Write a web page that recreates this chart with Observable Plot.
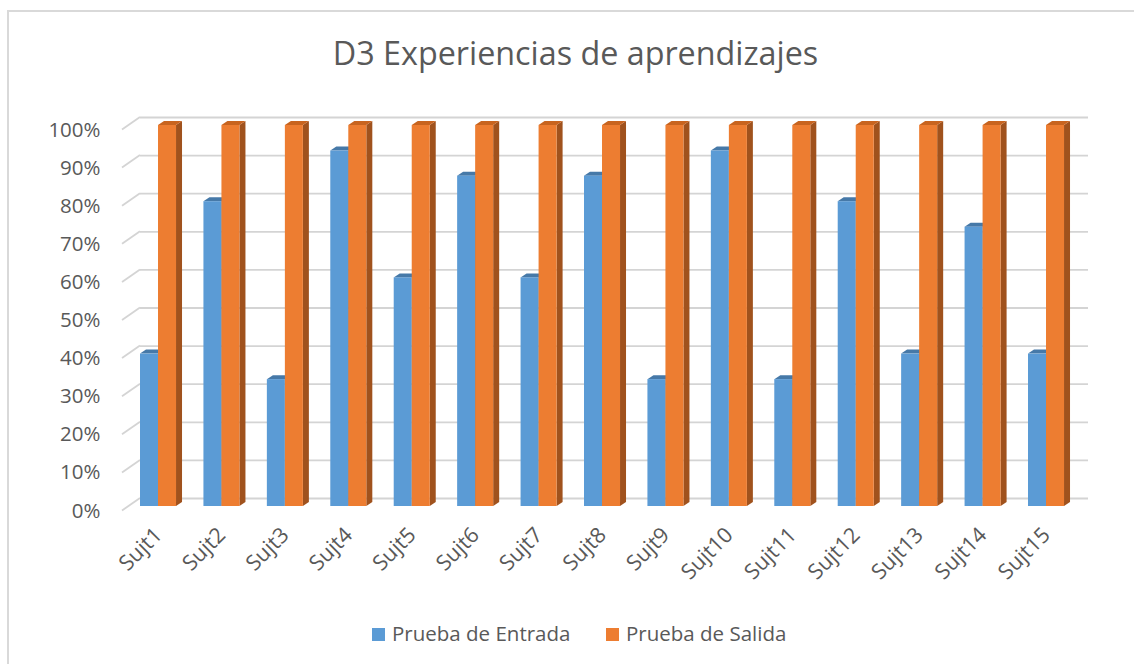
<!DOCTYPE html>
<html>
<head>
<meta charset="utf-8">
<script src="https://cdn.jsdelivr.net/npm/d3@7"></script>
<script src="https://cdn.jsdelivr.net/npm/@observablehq/plot@0.6"></script>
<style>
  html, body { margin: 0; padding: 0; background: #fff; }
  body { font-family: "Open Sans", sans-serif; color: #595959; width: 1134px; height: 664px; overflow: hidden; position: relative; }
  #border { position: absolute; left: 7px; top: 10px; width: 1200px; height: 700px; border-left: 2px solid #d9d9d9; border-top: 2px solid #d9d9d9; pointer-events: none; }
  #title { box-sizing: border-box; height: 100px; padding-top: 31px; padding-left: 17px; text-align: center; font-size: 32.3px; line-height: 42px; color: #595959; }
  #chart svg { display: block; }
  #legend { position: relative; height: 64px; font-size: 20.5px; color: #595959; }
  .sw { position: absolute; top: 28px; width: 13px; height: 13px; }
  .lt { position: absolute; top: 19px; line-height: 28px; white-space: nowrap; }
</style>
</head>
<body>
<div id="border"></div>
<div id="title">D3 Experiencias de aprendizajes</div>
<div id="chart"></div>
<div id="legend"></div>
<script>
// ---- data ----
const categories = ["Sujt1","Sujt2","Sujt3","Sujt4","Sujt5","Sujt6","Sujt7","Sujt8","Sujt9","Sujt10","Sujt11","Sujt12","Sujt13","Sujt14","Sujt15"];
const series = ["Prueba de Entrada", "Prueba de Salida"];
const entrada = [0.40, 0.80, 0.333, 0.933, 0.60, 0.867, 0.60, 0.867, 0.333, 0.933, 0.333, 0.80, 0.40, 0.733, 0.40];
const salida  = [1.00, 1.00, 1.00, 1.00, 1.00, 1.00, 1.00, 1.00, 1.00, 1.00, 1.00, 1.00, 1.00, 1.00, 1.00];
const yTicks = [0, 0.1, 0.2, 0.3, 0.4, 0.5, 0.6, 0.7, 0.8, 0.9, 1.0];

// ---- styles ----
const frontColors = ["#5b9bd5", "#ed7d31"];
const topColors   = ["#4679a8", "#c8641f"];
const sideColors  = ["#3d6a94", "#a0521d"];
const W = 1134, H = 500;
const mL = 140, mR = 46, mT = 25, mB = 94;
const padInner = 0.432, padOuter = 0.189;
const depthX = 6, depthY = -4;

const rows = categories.flatMap((c, i) => [
  {cat: c, s: 0, serie: series[0], value: entrada[i]},
  {cat: c, s: 1, serie: series[1], value: salida[i]}
]);

const step = (W - mL - mR) / (categories.length - padInner + 2 * padOuter);
const half = step * (1 - padInner) / 2;

// 3D faces (top and side) drawn with the plot's scales
function faces(index, scales, values, dims) {
  const g = d3.create("svg:g");
  const bw = scales.x.bandwidth();
  const y0 = scales.y(0);
  for (const r of rows) {
    const xa = scales.x(r.cat) + r.s * bw / 2;
    const xb = xa + bw / 2;
    const yt = scales.y(r.value);
    g.append("polygon")
      .attr("points", [[xb, yt], [xb + depthX, yt + depthY], [xb + depthX, y0 + depthY], [xb, y0]].join(" "))
      .attr("fill", sideColors[r.s]);
    g.append("polygon")
      .attr("points", [[xa, yt], [xb, yt], [xb + depthX, yt + depthY], [xa + depthX, yt + depthY]].join(" "))
      .attr("fill", topColors[r.s]);
  }
  return g.node();
}

// slanted wall edges on the left of each gridline
function slants(index, scales, values, dims) {
  const g = d3.create("svg:g");
  const xl = dims.marginLeft;
  for (const t of yTicks) {
    const y = scales.y(t);
    g.append("line")
      .attr("x1", xl - 18).attr("y1", y + 4.5)
      .attr("x2", xl).attr("y2", y - 8)
      .attr("stroke", "#d4d4d4").attr("stroke-width", 1.8);
  }
  return g.node();
}

const chart = Plot.plot({
  width: W, height: H,
  marginLeft: mL, marginRight: mR, marginTop: mT, marginBottom: mB,
  style: {fontFamily: "Open Sans, sans-serif", color: "#595959", background: "transparent"},
  x: {type: "band", domain: categories, paddingInner: padInner, paddingOuter: padOuter, align: 0, round: false, label: null},
  y: {domain: [0, 1], label: null},
  marks: [
    Plot.ruleY(yTicks, {stroke: "#d4d4d4", strokeWidth: 1.8, dy: -8}),
    slants,
    faces,
    Plot.barY(rows.filter(d => d.s === 0), {x: "cat", y: "value", fill: frontColors[0], insetRight: half}),
    Plot.barY(rows.filter(d => d.s === 1), {x: "cat", y: "value", fill: frontColors[1], insetLeft: half}),
    Plot.axisY({ticks: yTicks, tickFormat: d3.format(".0%"), tickSize: 0, tickPadding: 40, dy: 4.5, fontSize: 20.5, label: null}),
    Plot.axisX({tickRotate: -45, tickSize: 0, tickPadding: 25, fontSize: 21.5, label: null})
  ]
});
document.getElementById("chart").appendChild(chart);

// legend
const legend = document.getElementById("legend");
const legendPos = [[372, 392], [606, 626]];
series.forEach((s, i) => {
  const sw = document.createElement("div");
  sw.className = "sw"; sw.style.left = legendPos[i][0] + "px"; sw.style.background = frontColors[i];
  const t = document.createElement("div");
  t.className = "lt"; t.style.left = legendPos[i][1] + "px"; t.textContent = s;
  legend.appendChild(sw); legend.appendChild(t);
});
</script>
</body>
</html>
